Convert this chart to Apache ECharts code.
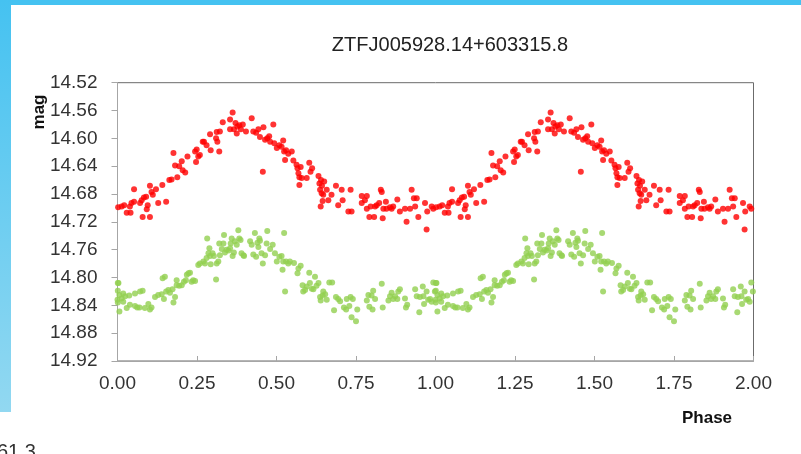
<!DOCTYPE html>
<html>
<head>
<meta charset="utf-8">
<script src="https://cdn.jsdelivr.net/npm/echarts@6/dist/echarts.min.js"></script>
<style>
html,body{margin:0;padding:0;background:#fff;}
#chart{width:801px;height:454px;}
</style>
</head>
<body>
<div id="chart"></div>
<script>
//folded light curve, one cycle (plotted twice: phase and phase+1)
var redPhase = [0.002,0.013,0.021,0.029,0.041,0.039,0.044,0.052,0.052,0.071,0.076,0.079,0.083,0.090,0.092,0.095,0.102,0.102,0.107,0.111,
	0.121,0.128,0.141,0.153,0.163,0.170,0.176,0.181,0.188,0.194,0.202,0.205,0.213,0.220,0.244,0.247,0.249,0.254,0.259,0.268,
	0.272,0.280,0.291,0.293,0.310,0.312,0.314,0.320,0.322,0.331,0.354,0.354,0.362,0.366,0.371,0.375,0.377,0.383,0.388,0.394,
	0.404,0.422,0.427,0.436,0.443,0.448,0.457,0.459,0.464,0.471,0.477,0.480,0.490,0.493,0.501,0.509,0.516,0.521,0.524,0.530,
	0.537,0.548,0.527,0.553,0.563,0.566,0.569,0.572,0.572,0.576,0.579,0.595,0.603,0.607,0.632,0.635,0.637,0.639,0.642,0.647,
	0.658,0.663,0.640,0.643,0.645,0.650,0.612,
	0.673,0.687,0.694,0.705,0.708,0.726,0.736,0.733,0.768,0.768,0.778,0.784,0.784,0.792,0.796,0.807,0.810,0.815,0.823,0.828,
	0.831,0.834,0.836,0.844,0.846,0.857,0.862,0.867,0.880,0.888,0.904,0.909,0.920,0.925,0.932,0.936,0.941,0.946,0.967,0.972,
	0.974,0.988,0.993];
var redMag = [14.699,14.698,14.696,14.707,14.707,14.698,14.693,14.691,14.673,14.693,14.689,14.713,14.685,14.684,14.702,14.696,14.713,14.668,14.677,14.681,
	14.673,14.693,14.667,14.691,14.660,14.659,14.621,14.639,14.656,14.640,14.633,14.646,14.649,14.626,14.619,14.634,14.616,14.626,14.624,14.605,
	14.605,14.610,14.594,14.617,14.600,14.591,14.605,14.619,14.590,14.577,14.573,14.587,14.563,14.587,14.578,14.593,14.583,14.581,14.587,14.580,
	14.590,14.571,14.590,14.592,14.587,14.598,14.648,14.584,14.602,14.600,14.597,14.605,14.580,14.607,14.614,14.610,14.612,14.603,14.619,14.617,
	14.622,14.619,14.631,14.632,14.638,14.643,14.650,14.656,14.667,14.641,14.657,14.657,14.635,14.648,14.654,14.665,14.674,14.698,14.679,14.681,
	14.674,14.689,14.660,14.668,14.690,14.662,14.643,
	14.681,14.668,14.696,14.674,14.689,14.705,14.705,14.674,14.683,14.693,14.689,14.683,14.701,14.713,14.698,14.713,14.698,14.696,14.693,14.674,
	14.677,14.715,14.701,14.691,14.701,14.699,14.701,14.698,14.688,14.705,14.701,14.720,14.701,14.674,14.686,14.698,14.686,14.713,14.693,14.731,
	14.705,14.698,14.701];

var greenPhase = [0.001,0.003,0.001,0.006,0.000,0.001,0.006,0.013,0.018,0.018,0.024,0.029,0.037,0.039,0.055,0.055,0.062,0.069,0.071,0.079,
	0.086,0.097,0.102,0.107,0.118,0.128,0.139,0.142,0.149,0.146,0.153,0.160,0.165,0.173,0.176,0.181,0.186,0.186,0.194,0.202,
	0.209,0.215,0.218,0.223,0.228,0.233,0.238,0.244,0.254,0.259,0.270,0.275,0.280,0.282,0.286,0.289,0.291,0.293,0.299,0.303,
	0.310,0.312,0.317,0.320,0.322,0.328,0.333,0.335,0.338,0.343,0.349,0.354,0.356,0.359,0.362,0.366,0.369,0.375,0.380,0.383,
	0.387,0.390,0.396,0.398,0.417,0.422,0.427,0.432,0.436,0.440,0.443,0.446,0.448,0.453,0.457,0.464,0.469,0.471,0.480,0.488,
	0.495,0.501,0.509,0.516,0.519,0.521,0.524,0.527,0.530,0.537,0.542,0.555,0.566,0.569,0.576,0.582,0.584,0.590,0.595,0.603,
	0.605,0.611,0.616,0.621,0.626,0.632,0.637,0.639,0.645,0.647,0.653,0.658,0.666,
	0.675,0.681,0.687,0.694,0.700,0.712,0.719,0.721,0.729,0.733,0.736,0.740,0.750,0.754,0.784,0.789,0.792,0.799,0.802,0.804,
	0.810,0.831,0.834,0.852,0.857,0.862,0.867,0.873,0.880,0.883,0.888,0.904,0.907,0.911,0.936,0.941,0.949,0.951,0.960,0.962,
	0.964,0.972,0.977,0.983,0.988,0.993,0.998];
var greenMag = [14.808,14.808,14.819,14.825,14.832,14.836,14.849,14.830,14.823,14.835,14.827,14.844,14.826,14.839,14.823,14.841,14.843,14.843,14.820,14.819,
	14.844,14.838,14.846,14.843,14.828,14.825,14.824,14.801,14.799,14.831,14.820,14.818,14.822,14.817,14.836,14.828,14.804,14.811,14.812,14.811,
	14.806,14.804,14.796,14.794,14.793,14.806,14.804,14.805,14.782,14.780,14.777,14.780,14.772,14.744,14.765,14.758,14.769,14.781,14.765,14.769,
	14.803,14.780,14.777,14.751,14.768,14.759,14.751,14.739,14.764,14.760,14.761,14.758,14.751,14.744,14.769,14.764,14.748,14.753,14.732,14.744,
	14.746,14.765,14.768,14.769,14.748,14.753,14.767,14.736,14.770,14.750,14.756,14.744,14.747,14.765,14.780,14.768,14.751,14.733,14.759,14.753,
	14.765,14.777,14.770,14.769,14.789,14.777,14.736,14.820,14.777,14.780,14.777,14.779,14.794,14.787,14.783,14.811,14.820,14.818,14.813,14.793,
	14.808,14.816,14.817,14.799,14.812,14.808,14.828,14.833,14.826,14.820,14.824,14.832,14.807,
	14.807,14.847,14.828,14.831,14.834,14.843,14.846,14.831,14.841,14.828,14.857,14.831,14.863,14.846,14.833,14.825,14.842,14.826,14.846,14.819,
	14.831,14.809,14.843,14.833,14.827,14.822,14.831,14.827,14.831,14.820,14.817,14.830,14.843,14.839,14.817,14.827,14.850,14.828,14.813,14.827,
	14.838,14.820,14.832,14.831,14.835,14.807,14.820];

var titleText = 'ZTFJ005928.14+603315.8';

//each observation shown at phase and at phase+1
function twoCycles(phase, mag){
	var out = [];
	for(var c=0;c<2;c++){
		for(var i=0;i<phase.length;i++){
			out.push([phase[i]+c, mag[i]]);
		}
	}
	return out;
}

var myChart = echarts.init(document.getElementById('chart'), null, {renderer:'canvas'});
var fontFam = "'Liberation Sans', Arial, sans-serif";

var option = {
	backgroundColor:'#fff',
	animation:false,
	title:{
		text:titleText,
		left:445,
		top:30,
		textAlign:'center',
		textStyle:{fontFamily:fontFam, fontSize:20, fontWeight:'normal', color:'#222'}
	},
	grid:{
		left:117.5, right:47.5, top:82.7, bottom:93,
		show:true, borderColor:'#6b6b6b', borderWidth:1, backgroundColor:'#fff'
	},
	xAxis:{
		type:'value', min:0, max:2, interval:0.25,
		axisLine:{show:true, onZero:false, lineStyle:{color:'#a6a6a6'}},
		axisTick:{show:true, inside:true, length:5, lineStyle:{color:'#a6a6a6'}},
		splitLine:{show:false},
		axisLabel:{margin:13, fontFamily:fontFam, fontSize:19, color:'#333',
			formatter:function(v){ return v.toFixed(2); }}
	},
	yAxis:{
		type:'value', inverse:true, min:14.52, max:14.92, interval:0.04,
		axisLine:{show:true, onZero:false, lineStyle:{color:'#a6a6a6'}},
		axisTick:{show:true, inside:false, length:6, lineStyle:{color:'#a6a6a6'}},
		splitLine:{show:false},
		axisLabel:{margin:20, fontFamily:fontFam, fontSize:19, color:'#333',
			formatter:function(v){ return v.toFixed(2); }}
	},
	series:[
		{
			name:'r', type:'scatter', symbol:'circle', symbolSize:6, clip:false,
			itemStyle:{color:'#ff0000'},
			data:twoCycles(redPhase, redMag)
		},
		{
			name:'g', type:'scatter', symbol:'circle', symbolSize:6, clip:false,
			itemStyle:{color:'#92d050'},
			data:twoCycles(greenPhase, greenMag)
		}
	],
	graphic:[
		//slide frame
		{type:'rect', shape:{x:0, y:0, width:801, height:5}, style:{fill:'#45c2f1'}, silent:true},
		{type:'rect', shape:{x:0, y:0, width:11, height:412}, silent:true,
			style:{fill:new echarts.graphic.LinearGradient(0,0,0,1,[{offset:0,color:'#45c2f1'},{offset:1,color:'#92d8f1'}])}},
		//axis titles
		{type:'text', x:39, y:112, rotation:Math.PI/2, silent:true,
			style:{text:'mag', font:"bold 17px 'Liberation Sans', Arial, sans-serif", fill:'#111', align:'center', verticalAlign:'middle'}},
		{type:'text', x:707, y:418, silent:true,
			style:{text:'Phase', font:"bold 17px 'Liberation Sans', Arial, sans-serif", fill:'#111', align:'center', verticalAlign:'middle'}},
		//cut caption at the bottom edge
		{type:'text', x:-3, y:442, silent:true,
			style:{text:'61.3', font:"20px 'Liberation Sans', Arial, sans-serif", fill:'#333', align:'left', verticalAlign:'top'}}
	]
};
myChart.setOption(option);
</script>
</body>
</html>
